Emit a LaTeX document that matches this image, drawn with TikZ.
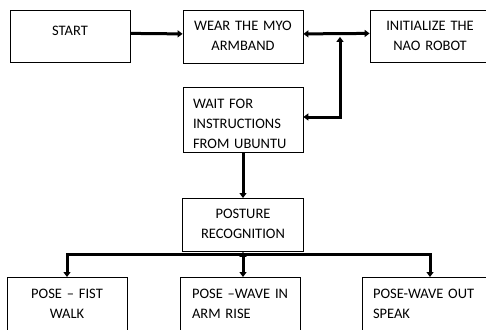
\documentclass[tikz,border=0pt]{standalone}
\usepackage{fontspec}
\setmainfont{Carlito}
\usetikzlibrary{arrows.meta}
\begin{document}
\begin{tikzpicture}[x=1pt,y=-1pt]
		\tikzstyle{stepbox}=[draw=black, line width=0.8pt, anchor=north, inner ysep=0pt, font=\fontsize{14.5}{20}\selectfont]
		\tikzstyle{midbox}=[stepbox, align=center, inner xsep=4pt]
		\tikzstyle{leftbox}=[stepbox, align=left]
		\tikzstyle{link}=[black, line width=3pt, -{Triangle[width=7pt,length=5pt]}]
		\tikzstyle{twoway}=[link, {Triangle[width=7pt,length=5pt]}-{Triangle[width=7pt,length=5pt]}]
		\useasboundingbox (0,0) rectangle (486,329);
		\clip (0,0) rectangle (486,329);
		\node [midbox, text width=112pt, text height=25pt, text depth=27pt] (start) at (70,10) {START};
		\node [midbox, text width=112pt, text height=20pt, text depth=33pt] (wear) at (243,10) {WEAR THE MYO\\ARMBAND};
		\node [midbox, text width=112pt, text height=20pt, text depth=32pt] (init) at (430,10) {INITIALIZE THE\\NAO ROBOT};
		\node [leftbox, inner xsep=10pt, text width=100pt, text height=21pt, text depth=44pt] (wait) at (243,87) {WAIT FOR\\INSTRUCTIONS\\FROM~UBUNTU};
		\node [midbox, text width=113pt, text height=20pt, text depth=33pt] (posture) at (243,198) {POSTURE\\RECOGNITION};
		\node [midbox, text width=112pt, text height=21pt, text depth=39pt] (fist) at (67,277) {\mbox{POSE – FIST}\\WALK};
		\node [leftbox, inner xsep=12pt, text width=96pt, text height=21pt, text depth=39pt] (wavein) at (240,277) {\mbox{POSE –WAVE IN}\\\mbox{ARM RISE}};
		\node [leftbox, inner xsep=11pt, text width=114pt, text height=21pt, text depth=39pt] (waveout) at (430,277) {\mbox{POSE-WAVE OUT}\\SPEAK};
		\coordinate (turn) at (340,117);
		\coordinate (bus) at (243,254);
		\draw [link] ([yshift=3pt]start.east) -- ([yshift=3pt]wear.west);
		\draw [twoway] ([yshift=3pt]wear.east) -- ([yshift=3pt]init.west);
		\draw [twoway] (turn |- wear.east) -- (turn) -- (wait.east |- turn);
		\draw [link] (wait.south) -- (posture.north);
		\draw [black, line width=3pt, line cap=rect] (fist.north |- bus) -- (waveout.north |- bus);
		\draw [twoway] (posture.south) -- (posture.south |- wavein.north);
		\draw [link] (fist.north |- bus) -- (fist.north);
		\draw [link] (waveout.north |- bus) -- (waveout.north);
	\end{tikzpicture}
\end{document}
